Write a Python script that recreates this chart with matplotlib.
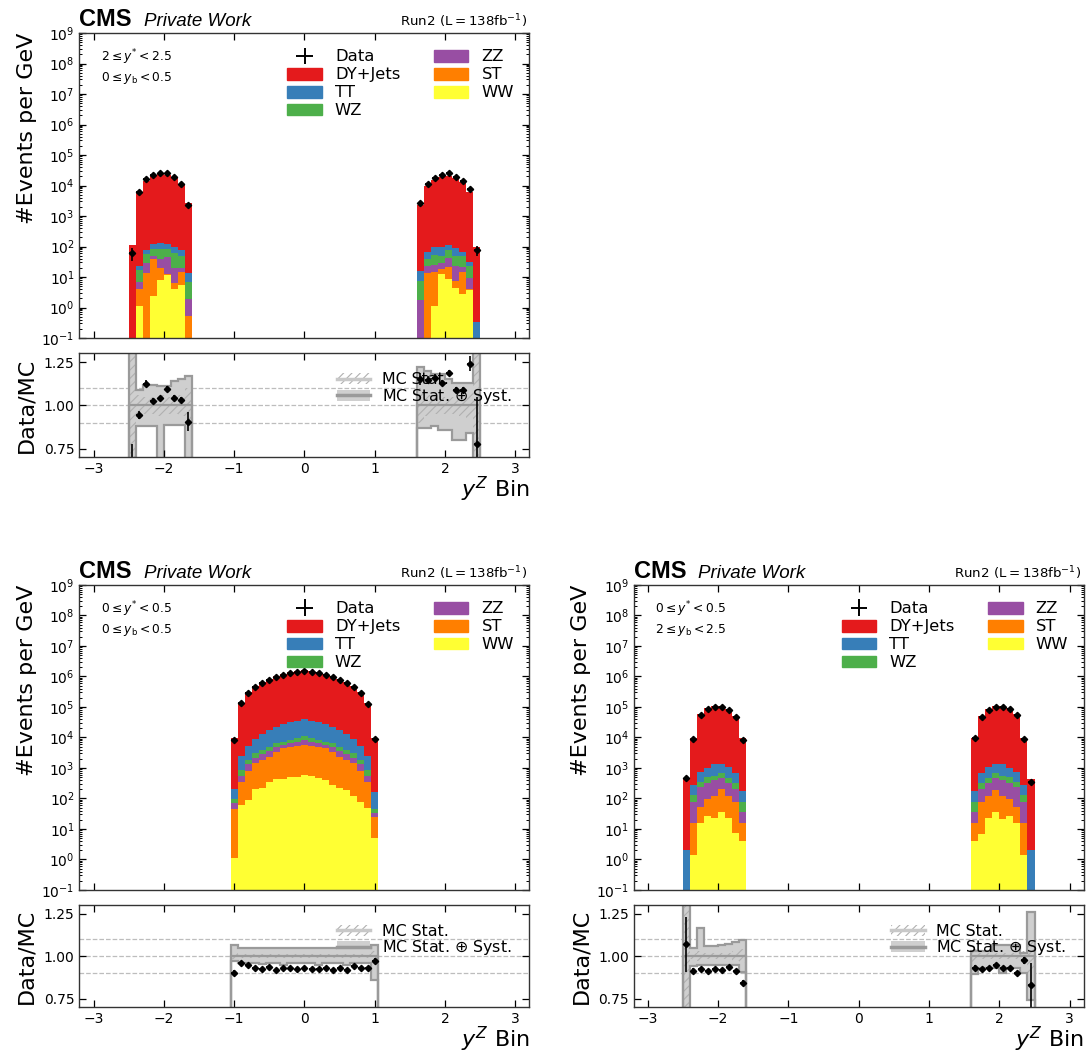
import numpy as np
import matplotlib
matplotlib.use("Agg")
import matplotlib.pyplot as plt
from matplotlib.patches import Patch
from matplotlib.lines import Line2D
from matplotlib.ticker import LogLocator, FixedLocator, NullLocator, NullFormatter, FormatStrFormatter

# ---------------- binning in y^Z ----------------
edges_bwd = np.round(np.arange(-2.5, -1.55, 0.1), 2)   # 9 bins
edges_fwd = np.round(np.arange(1.6, 2.55, 0.1), 2)     # 9 bins
edges_cen = np.round(np.arange(-1.05, 1.06, 0.1), 2)   # 21 bins

process_names = ["WW", "ST", "ZZ", "WZ", "TT", "DY+Jets"]          # stacking order (bottom -> top)
process_colors = ["#ffff33", "#ff7f00", "#984ea3", "#4daf4a", "#377eb8", "#e41a1c"]

# ---------------- region A: 2 <= y* < 2.5, 0 <= yb < 0.5 (backward + forward bins) ----------------
a_ww = [0, 1.1, 0, 2.4, 8.0, 11.6, 4.0, 5.5, 0,
        0, 0, 1.15, 12.5, 8.6, 4.5, 2.8, 3.75, 0]
a_st = [0, 2.8, 13.5, 35.6, 11.2, 0.9, 2.5, 9.5, 0.53,
        0, 13.8, 13.9, 5.3, 13.2, 3.1, 11.4, 0.15, 0]
a_zz = [0, 3.0, 14.5, 11.0, 20.8, 31.5, 12.7, 4.2, 1.37,
        1.76, 9.7, 9.7, 10.2, 20.2, 15.4, 7.6, 5.6, 0]
a_wz = [0, 10.1, 29, 36, 43, 37, 41, 30, 5.1,
        5.6, 15.5, 26.3, 21, 35, 26, 27.2, 14, 0]
a_tt = [0, 6.5, 20, 36, 51, 40, 34, 28, 6.5,
        8.7, 29, 43, 45, 35, 43, 18, 7.5, 0.34]
a_dy = [112, 6250, 14300, 22000, 23700, 22500, 17500, 11100, 2590,
        2280, 9570, 15000, 19400, 20900, 18000, 12600, 6090, 99]
a_data = [60, 5930, 16170, 22740, 24820, 24800, 18390, 11520, 2360,
          2650, 11070, 17520, 22000, 24990, 19750, 13800, 7600, 77]
a_data_relerr = [0.45, 0.025, 0.018, 0.015, 0.015, 0.015, 0.015, 0.018, 0.06,
                 0.03, 0.02, 0.018, 0.015, 0.015, 0.015, 0.018, 0.035, 0.35]
a_syst_up = [1.6, 1.09, 1.12, 1.12, 1.11, 1.11, 1.14, 1.15, 1.17,
             1.22, 1.20, 1.18, 1.18, 1.15, 1.13, 1.13, 1.13, 1.6]
a_syst_dn = [0.4, 0.88, 0.88, 0.88, 0.6, 0.885, 0.885, 0.89, 0.6,
             0.87, 0.87, 0.88, 0.86, 0.86, 0.80, 0.80, 0.84, 0.4]
a_stat = [0.5, 0.06, 0.05, 0.05, 0.06, 0.05, 0.05, 0.06, 0.1,
          0.1, 0.06, 0.05, 0.05, 0.05, 0.05, 0.06, 0.07, 0.5]

# ---------------- region B: 0 <= y* < 0.5, 0 <= yb < 0.5 (central bins) ----------------
b_ww = [1.15, 61, 89, 200, 215, 357, 425, 436, 494, 494, 589, 547, 482, 404, 277, 215, 190, 121, 79, 48, 5.2]
b_st = [43.9, 296, 709, 1220, 1615, 1993, 2845, 3984, 4506, 4906, 4951, 4853, 4518, 4016, 2993, 2135, 1640,
        1299, 719, 309, 18.8]
b_zz = [24.5, 204, 552, 650, 1050, 1350, 1490, 1260, 1440, 1900, 2740, 1900, 1440, 1260, 1490, 1350, 1050,
        650, 552, 204, 8.7]
b_wz = [24.5, 299, 480, 960, 1010, 1300, 1680, 1620, 1840, 2100, 2920, 2100, 1840, 1620, 1680, 1300, 1010,
        960, 480, 299, 13.3]
b_tt = [111, 1680, 3570, 5670, 9110, 12200, 16260, 20400, 23120, 26200, 28200, 26200, 23120, 20400, 16260,
        12200, 9110, 5670, 3570, 1680, 121]
b_dy = [9195, 136460, 304600, 480300, 647000, 831800, 1017000, 1212000, 1379000, 1514000, 1641000, 1514000,
        1379000, 1212000, 1017000, 831800, 647000, 480300, 304600, 136460, 9233]
b_data = [8450, 133200, 292900, 455300, 610500, 793800, 955800, 1152000, 1310000, 1431000, 1564000, 1428000,
          1299000, 1154000, 955800, 787000, 603900, 459200, 288600, 129400, 9120]
b_data_relerr = [0.02, 0.008, 0.008, 0.008, 0.008, 0.008, 0.008, 0.008, 0.008, 0.008, 0.008, 0.008, 0.008,
                 0.008, 0.008, 0.008, 0.008, 0.008, 0.008, 0.008, 0.02]
b_syst_up = [1.067, 1.045, 1.045, 1.045, 1.047, 1.047, 1.048, 1.048, 1.048, 1.05, 1.05, 1.05, 1.05, 1.05,
             1.05, 1.05, 1.05, 1.05, 1.05, 1.05, 1.067]
b_syst_dn = [0.97, 0.96, 0.958, 0.96, 0.955, 0.958, 0.96, 0.945, 0.96, 0.96, 0.958, 0.96, 0.945, 0.958,
             0.96, 0.96, 0.945, 0.958, 0.96, 0.96, 0.86]
b_stat = [0.02, 0.01, 0.01, 0.01, 0.01, 0.01, 0.01, 0.01, 0.01, 0.01, 0.01, 0.01, 0.01, 0.01, 0.01,
          0.01, 0.01, 0.01, 0.01, 0.01, 0.03]

# ---------------- region C: 0 <= y* < 0.5, 2 <= yb < 2.5 (backward + forward bins) ----------------
c_ww = [0, 1.4, 16.1, 26.7, 22.4, 37, 23.5, 7.2, 4.1,
        4.1, 7, 23, 37, 22, 27, 16, 1.4, 0]
c_st = [0, 13.9, 37.9, 67.3, 98.6, 163, 97.5, 69.8, 12,
        12, 70, 98, 160, 100, 68, 38, 14, 0]
c_zz = [0, 63.7, 190, 220, 283, 258, 209, 123, 20.9,
        21, 123, 209, 258, 283, 220, 190, 64, 0]
c_wz = [0, 51, 113, 206, 143, 210, 128, 114, 40,
        40, 114, 128, 210, 143, 206, 113, 51, 0]
c_tt = [2.05, 147, 364, 510, 803, 682, 592, 389, 104,
        104, 389, 592, 682, 803, 510, 364, 147, 2.05]
c_dy = [433, 9200, 59100, 94000, 108700, 103700, 83800, 49300, 9800,
        9800, 49300, 83800, 103700, 108700, 94000, 59100, 9200, 433]
c_data = [465, 8660, 55300, 86600, 101900, 96600, 79400, 45600, 8390,
          9260, 46300, 78700, 99300, 102500, 88500, 54000, 9240, 360]
c_data_relerr = [0.15, 0.02, 0.01, 0.01, 0.01, 0.01, 0.01, 0.01, 0.02,
                 0.02, 0.01, 0.01, 0.01, 0.01, 0.01, 0.01, 0.02, 0.16]
c_syst_up = [1.6, 1.05, 1.167, 1.06, 1.06, 1.064, 1.07, 1.08, 1.094,
             1.03, 1.03, 1.03, 1.064, 1.064, 1.064, 1.064, 1.015, 1.26]
c_syst_dn = [0.4, 0.94, 0.95, 0.95, 0.95, 0.95, 0.95, 0.95, 0.905,
             0.896, 0.93, 0.93, 0.93, 0.9, 0.93, 0.93, 0.9, 0.74]
c_stat = [0.5, 0.02, 0.03, 0.02, 0.02, 0.02, 0.02, 0.03, 0.04,
          0.04, 0.02, 0.02, 0.02, 0.02, 0.02, 0.02, 0.03, 0.1]

region_a = [r"$2 \leq y^{*} < 2.5$", r"$0 \leq y_{\mathrm{b}} < 0.5$"]
region_b = [r"$0 \leq y^{*} < 0.5$", r"$0 \leq y_{\mathrm{b}} < 0.5$"]
region_c = [r"$0 \leq y^{*} < 0.5$", r"$2 \leq y_{\mathrm{b}} < 2.5$"]

# ---------------- styling ----------------
plt.rcParams.update({
    "font.family": ["DejaVu Sans"],
    "mathtext.fontset": "dejavusans",
    "hatch.linewidth": 0.8,
    "axes.linewidth": 1.0,
})

BAND_FILL = "#cfcfcf"
BAND_EDGE = "#9a9a9a"
HATCH_COL = "#b0b0b0"
LABEL_X = -0.095


def style_axes(ax):
    ax.set_xlim(-3.2, 3.2)
    ax.xaxis.set_major_locator(FixedLocator([-3, -2, -1, 0, 1, 2, 3]))
    ax.xaxis.set_minor_locator(NullLocator())
    ax.tick_params(axis="both", which="both", direction="in", top=True, right=True, labelsize=10)
    ax.tick_params(which="major", length=5, width=0.9)
    ax.tick_params(which="minor", length=2.5, width=0.7)
    for s in ax.spines.values():
        s.set_color("#333333")


def draw_panel(ax, axr, blocks, comps, data, relerr, syst_up, syst_dn, stat, region):
    comps = [np.asarray(c, float) for c in comps]
    data = np.asarray(data, float)
    relerr = np.asarray(relerr, float)
    syst_up = np.asarray(syst_up, float)
    syst_dn = np.asarray(syst_dn, float)
    stat = np.asarray(stat, float)

    start = 0
    for edges in blocks:
        n = len(edges) - 1
        sl = slice(start, start + n)
        start += n
        centers = 0.5 * (edges[1:] + edges[:-1])
        half = 0.4 * np.diff(edges)

        # stacked MC
        cum = np.full(n, 1e-4)
        for vals, col in zip(comps, process_colors):
            top = cum + vals[sl]
            ax.stairs(top, edges, baseline=cum, fill=True, color=col, lw=0)
            cum = top
        total = cum

        d = data[sl]
        ax.errorbar(centers, d, yerr=d * relerr[sl], xerr=half, fmt="D", ms=3.2,
                    color="black", elinewidth=1.2, capsize=0)

        # ratio panel: syst band, stat hatch, outlines
        axr.stairs(syst_up[sl], edges, baseline=syst_dn[sl], fill=True, color=BAND_FILL, lw=0)
        axr.stairs(1 + stat[sl], edges, baseline=1 - stat[sl], fill=True, facecolor="none",
                   edgecolor=HATCH_COL, hatch="////", lw=0)
        axr.stairs(syst_up[sl], edges, baseline=0, color=BAND_EDGE, lw=1.6)
        axr.stairs(syst_dn[sl], edges, baseline=0, color=BAND_EDGE, lw=1.6)
        axr.stairs(np.ones(n), edges, baseline=0, color=BAND_EDGE, lw=1.6)

        r = d / total
        axr.errorbar(centers, r, yerr=r * relerr[sl], xerr=half, fmt="D", ms=3.2,
                     color="black", elinewidth=1.2, capsize=0)

    # main axes
    ax.set_yscale("log")
    ax.set_ylim(1e-1, 1e9)
    ax.yaxis.set_major_locator(LogLocator(base=10, numticks=20))
    ax.yaxis.set_minor_locator(LogLocator(base=10, subs=np.arange(2, 10), numticks=20))
    ax.yaxis.set_minor_formatter(NullFormatter())
    style_axes(ax)
    ax.tick_params(labelbottom=False)
    ax.set_ylabel("#Events per GeV", fontsize=16, loc="top")
    ax.yaxis.set_label_coords(LABEL_X, 1.0)

    ax.text(0.0, 1.022, "CMS", transform=ax.transAxes, fontsize=17, fontweight="bold",
            family="Liberation Sans", va="baseline", ha="left")
    ax.text(0.143, 1.022, "Private Work", transform=ax.transAxes, fontsize=13.5, style="italic",
            family="Liberation Sans", va="baseline", ha="left")
    ax.text(0.995, 1.022, r"Run2 ($\mathrm{L=138fb^{-1}}$)", transform=ax.transAxes, fontsize=9.6,
            va="baseline", ha="right")
    ax.text(0.047, 0.921, region[0], transform=ax.transAxes, fontsize=8.8, va="center", ha="left")
    ax.text(0.047, 0.852, region[1], transform=ax.transAxes, fontsize=8.8, va="center", ha="left")

    data_handle = ax.errorbar([], [], yerr=[], xerr=[], fmt="none", color="black", elinewidth=1.4)
    handles = [data_handle] + [Patch(color=c) for c in process_colors[::-1]]
    labels = ["Data"] + process_names[::-1]
    ax.legend(handles, labels, loc="upper right", ncol=2, fontsize=11.8, frameon=False,
              handlelength=2.1, handleheight=0.72, labelspacing=0.18, columnspacing=2.05,
              handletextpad=0.8, borderpad=0.4, borderaxespad=0.55, bbox_to_anchor=(1.0, 0.997))

    # ratio axes
    axr.set_ylim(0.7, 1.3)
    axr.yaxis.set_major_locator(FixedLocator([0.75, 1.0, 1.25]))
    axr.yaxis.set_minor_locator(NullLocator())
    axr.yaxis.set_major_formatter(FormatStrFormatter("%.2f"))
    for yv in (0.9, 1.0, 1.1):
        axr.axhline(yv, ls="--", color="#bdbdbd", lw=0.9, zorder=0)
    style_axes(axr)
    axr.set_ylabel("Data/MC", fontsize=16)
    axr.yaxis.set_label_coords(LABEL_X, 0.5)
    axr.set_xlabel(r"$y^{Z}$ Bin", fontsize=16, loc="right", labelpad=-1)

    stat_handle = (Patch(facecolor="none", edgecolor=HATCH_COL, hatch="////", lw=0),
                   Line2D([], [], color="#c8c8c8", lw=2.5))
    syst_handle = (Patch(facecolor=BAND_FILL, lw=0), Line2D([], [], color=BAND_EDGE, lw=2.5))
    axr.legend([stat_handle, syst_handle], ["MC Stat.", r"MC Stat. $\oplus$ Syst."],
               loc="upper right", fontsize=11.4, frameon=False, handlelength=2.1,
               labelspacing=-0.05, handletextpad=0.75, borderpad=0.4, borderaxespad=0.7,
               bbox_to_anchor=(1.0, 0.985))


fig = plt.figure(figsize=(10.87, 10.58), dpi=100)

ax_a = fig.add_axes([0.0731, 0.6805, 0.414, 0.2883])
axr_a = fig.add_axes([0.0731, 0.5676, 0.414, 0.0983])
ax_b = fig.add_axes([0.0731, 0.1588, 0.414, 0.2883])
axr_b = fig.add_axes([0.0731, 0.0482, 0.414, 0.0964])
ax_c = fig.add_axes([0.583, 0.1588, 0.414, 0.2883])
axr_c = fig.add_axes([0.583, 0.0482, 0.414, 0.0964])

draw_panel(ax_a, axr_a, [edges_bwd, edges_fwd], [a_ww, a_st, a_zz, a_wz, a_tt, a_dy],
           a_data, a_data_relerr, a_syst_up, a_syst_dn, a_stat, region_a)
draw_panel(ax_b, axr_b, [edges_cen], [b_ww, b_st, b_zz, b_wz, b_tt, b_dy],
           b_data, b_data_relerr, b_syst_up, b_syst_dn, b_stat, region_b)
draw_panel(ax_c, axr_c, [edges_bwd, edges_fwd], [c_ww, c_st, c_zz, c_wz, c_tt, c_dy],
           c_data, c_data_relerr, c_syst_up, c_syst_dn, c_stat, region_c)

fig.savefig("out.png", dpi=100)
